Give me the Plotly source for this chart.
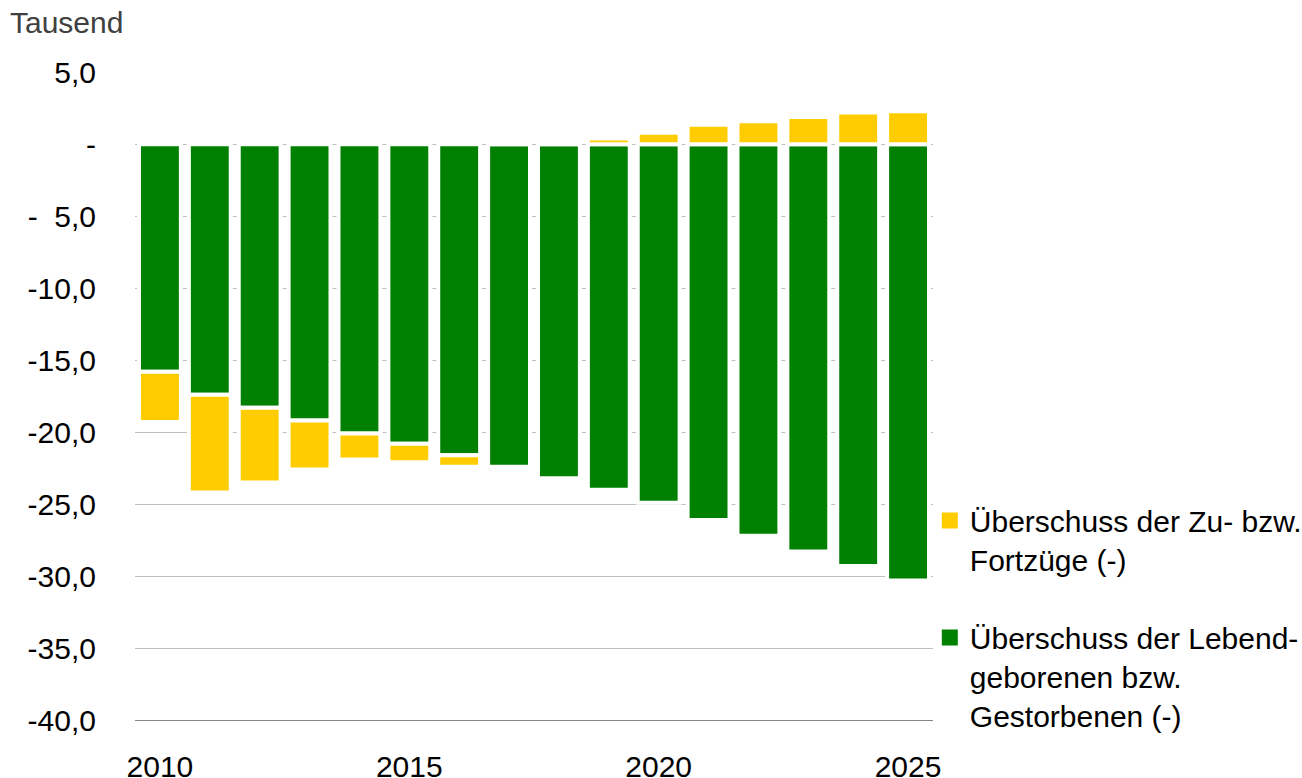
import plotly.graph_objects as go

YEARS = list(range(2010, 2026))
# Überschuss der Lebendgeborenen bzw. Gestorbenen (-), Tausend
NATURAL = [-15.8, -17.4, -18.3, -19.2, -20.1, -20.8, -21.6, -22.4,
           -23.2, -24.0, -24.9, -26.1, -27.2, -28.3, -29.3, -30.3]
# Überschuss der Zu- bzw. Fortzüge (-), Tausend
MIGRATION = [-3.5, -6.8, -5.2, -3.4, -1.8, -1.3, -0.8, 0.0,
             0.0, 0.4, 0.8, 1.35, 1.6, 1.9, 2.2, 2.3]

Y_TICKS = [5, 0, -5, -10, -15, -20, -25, -30, -35, -40]
Y_LABELS = ["5,0", "-", "-\u00a0\u00a05,0", "-10,0", "-15,0", "-20,0",
            "-25,0", "-30,0", "-35,0", "-40,0"]
X_TICKS = [2010, 2015, 2020, 2025]

NAT_NAME = "Überschuss der Lebend-<br>geborenen bzw.<br>Gestorbenen (-)"
MIG_NAME = "Überschuss der Zu- bzw.<br>Fortzüge (-)"

GREEN = "#008000"
YELLOW = "#FFCC00"
FONT = "Liberation Sans, Arial, sans-serif"

W, H = 1302, 778
L, T = 135, 72
PLOT_W, PLOT_H = 798, 648

fig = go.Figure()
fig.add_trace(go.Bar(
    x=YEARS, y=NATURAL, name=NAT_NAME, showlegend=False,
    marker=dict(color=GREEN, line=dict(color="white", width=4)),
))
fig.add_trace(go.Bar(
    x=YEARS, y=MIGRATION, name=MIG_NAME, showlegend=False,
    marker=dict(color=YELLOW, line=dict(color="white", width=4)),
))
# legend-only entries, so the swatches are plain filled squares
fig.add_trace(go.Scatter(
    x=[None], y=[None], mode="markers", name=MIG_NAME,
    marker=dict(symbol="square", size=16, color=YELLOW),
    legendgroup="mig",
))
fig.add_trace(go.Scatter(
    x=[None], y=[None], mode="markers", name=NAT_NAME,
    marker=dict(symbol="square", size=16, color=GREEN),
    legendgroup="nat",
))

fig.update_layout(
    barmode="relative",
    bargap=0.16,
    width=W,
    height=H,
    paper_bgcolor="white",
    plot_bgcolor="white",
    margin=dict(l=L, r=W - L - PLOT_W, t=T, b=H - T - PLOT_H, autoexpand=False),
    font=dict(family=FONT, size=30, color="black"),
    legend=dict(
        x=0.996, xanchor="left", y=0.348, yanchor="top",
        traceorder="grouped", tracegroupgap=36, valign="top",
        font=dict(family=FONT, size=30, color="black"),
        bgcolor="rgba(0,0,0,0)",
    ),
    annotations=[dict(
        text="Tausend", xref="paper", yref="paper",
        x=(8 - L) / PLOT_W, y=(PLOT_H + T - 22) / PLOT_H,
        xanchor="left", yanchor="middle", showarrow=False,
        font=dict(family=FONT, size=30, color="#404040"),
    )],
)
fig.update_xaxes(
    range=[2009.5, 2025.5],
    tickvals=X_TICKS,
    showgrid=False,
    showline=True, linecolor="#868686", linewidth=1,
    ticks="", ticklabelstandoff=20,
    zeroline=False, automargin=False,
)
fig.update_yaxes(
    range=[-40, 5.02],
    tickvals=Y_TICKS,
    ticktext=Y_LABELS,
    showgrid=True, gridcolor="#BFBFBF", gridwidth=1,
    zeroline=False, automargin=False,
    ticks="", ticklabelstandoff=38,
)

# drop the default 8px body margin so the figure fills the window exactly
fig.write_html(
    "out.html",
    config={"displayModeBar": False},
    post_script="document.body.style.margin = '0';",
)
